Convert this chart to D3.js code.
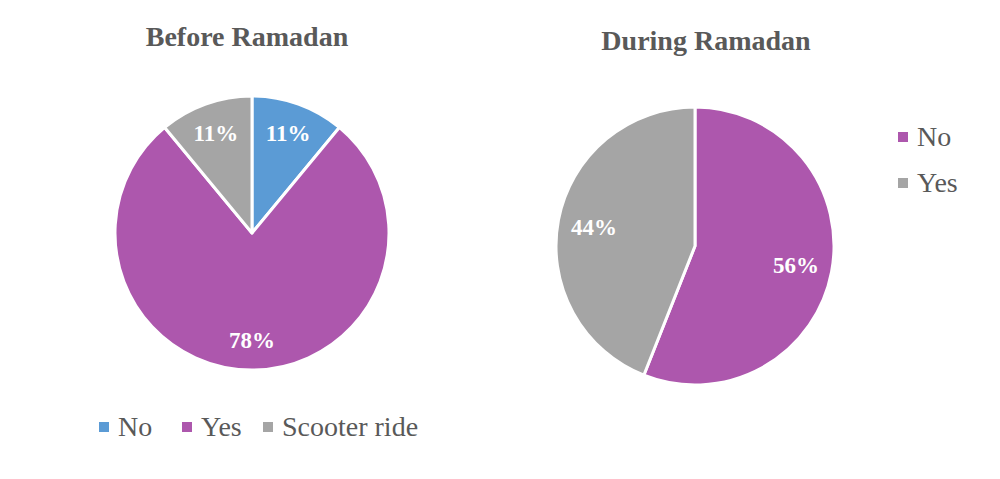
<!DOCTYPE html>
<html>
<head>
<meta charset="utf-8">
<script src="https://cdn.jsdelivr.net/npm/d3@7"></script>
<style>
  body { margin: 0; background: #fff; }
  svg { display: block; font-family: "Liberation Serif", "Times New Roman", serif; }
</style>
</head>
<body>
<svg id="chart" width="1000" height="479"></svg>
<script>
// data
var beforeCategories = ["No", "Yes", "Scooter ride"]
var beforeValues = [11, 78, 11]
var beforeColors = ["#5B9BD5", "#AD57AD", "#A5A5A5"]

var duringCategories = ["No", "Yes"]
var duringValues = [56, 44]
var duringColors = ["#AD57AD", "#A5A5A5"]

var svg = d3.select("#chart")
var textColor = "#595959"

function drawPie(cx, cy, r, values, colors, title, titleX, titleY, labelFactor)
{
    var g = svg.append("g").attr("transform", "translate(" + cx + "," + cy + ")")
    var pie = d3.pie().sort(null).value(function(d){ return d })
    var arcs = pie(values)
    var arc = d3.arc().innerRadius(0).outerRadius(r)
    var labelArc = d3.arc().innerRadius(r * labelFactor).outerRadius(r * labelFactor)

    g.selectAll("path")
        .data(arcs)
        .enter()
        .append("path")
        .attr("d", arc)
        .attr("fill", function(d, i){ return colors[i] })
        .attr("stroke", "#fff")
        .attr("stroke-width", 3)
        .attr("stroke-linejoin", "round")

    g.selectAll("text.lbl")
        .data(arcs)
        .enter()
        .append("text")
        .attr("class", "lbl")
        .attr("transform", function(d){ return "translate(" + labelArc.centroid(d) + ")" })
        .attr("text-anchor", "middle")
        .attr("dy", "0.35em")
        .attr("fill", "#fff")
        .attr("font-weight", "bold")
        .attr("font-size", 23)
        .text(function(d){ return d.data + "%" })

    svg.append("text")
        .attr("x", titleX)
        .attr("y", titleY)
        .attr("text-anchor", "middle")
        .attr("font-weight", "bold")
        .attr("font-size", 28)
        .attr("fill", textColor)
        .text(title)
}

drawPie(252, 233, 137, beforeValues, beforeColors, "Before Ramadan", 247, 46, 0.78)
drawPie(695, 246, 139, duringValues, duringColors, "During Ramadan", 706, 50, 0.74)

// legend below left pie
var legendX = [99, 182, 263]
var leg1 = svg.append("g")
beforeCategories.forEach(function(c, i){
    leg1.append("rect")
        .attr("x", legendX[i]).attr("y", 422)
        .attr("width", 10).attr("height", 10)
        .attr("fill", beforeColors[i])
    leg1.append("text")
        .attr("x", legendX[i] + 19).attr("y", 436)
        .attr("font-size", 28)
        .attr("fill", textColor)
        .text(c)
})

// legend right of right pie
var leg2 = svg.append("g")
duringCategories.forEach(function(c, i){
    var y = 132 + i * 46
    leg2.append("rect")
        .attr("x", 898).attr("y", y)
        .attr("width", 10).attr("height", 10)
        .attr("fill", duringColors[i])
    leg2.append("text")
        .attr("x", 917).attr("y", y + 14)
        .attr("font-size", 28)
        .attr("fill", textColor)
        .text(c)
})
</script>
</body>
</html>
